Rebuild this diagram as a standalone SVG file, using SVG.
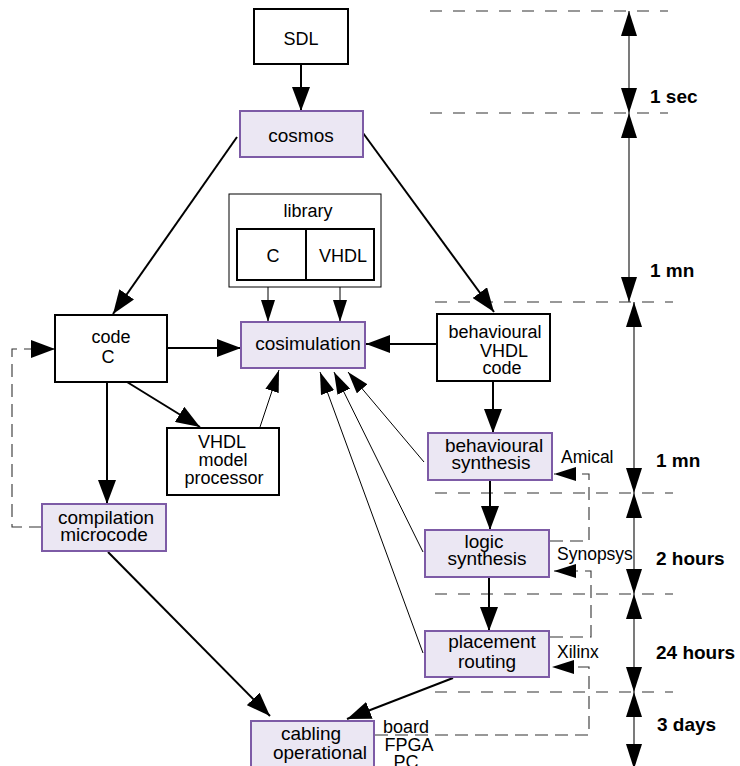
<svg xmlns="http://www.w3.org/2000/svg" width="740" height="766" viewBox="0 0 740 766">
<style>
text{font-family:"Liberation Sans",Arial,sans-serif;fill:#000;text-anchor:middle}
.b{fill:#fff;stroke:#000;stroke-width:2}
.p{fill:#ebe7f3;stroke:#7d5ba6;stroke-width:2}
.t18{font-size:18px}
.t19{font-size:19px}
.lbl{font-size:17.5px;text-anchor:start}
.bold{font-size:19px;font-weight:bold;text-anchor:start}
.thick{stroke:#000;stroke-width:2;fill:none}
.thin{stroke:#000;stroke-width:1;fill:none}
.dash{stroke:#333;stroke-width:1.1;fill:none;stroke-dasharray:13,7}
.hd{stroke:#333;stroke-width:1.1;fill:none;stroke-dasharray:12,11}
.tl{stroke:#333;stroke-width:1.3;fill:none}
</style>
<defs>
<marker id="ah" viewBox="0 0 24 18" refX="24" refY="9" markerWidth="24" markerHeight="18" orient="auto-start-reverse" markerUnits="userSpaceOnUse"><path d="M0,0 L24,9 L0,18 z" fill="#000"/></marker>
<marker id="as" viewBox="0 0 22 14" refX="22" refY="7" markerWidth="22" markerHeight="14" orient="auto-start-reverse" markerUnits="userSpaceOnUse"><path d="M0,0 L22,7 L0,14 z" fill="#000"/></marker>
<marker id="at" viewBox="0 0 25 16" refX="25" refY="8" markerWidth="25" markerHeight="16" orient="auto-start-reverse" markerUnits="userSpaceOnUse"><path d="M0,0 L25,8 L0,16 z" fill="#000"/></marker>
</defs>

<g id="timeline">
<path class="hd" d="M430,11 H668"/>
<path class="hd" d="M430,113 H668"/>
<path class="hd" d="M435,302 H673"/>
<path class="hd" d="M435,493 H673"/>
<path class="hd" d="M435,594 H673"/>
<path class="hd" d="M435,692 H673"/>
<path class="tl" d="M629,11 V113" marker-start="url(#at)" marker-end="url(#at)"/>
<path class="tl" d="M629,113 V302" marker-start="url(#at)" marker-end="url(#at)"/>
<path class="tl" d="M634,302 V493" marker-start="url(#at)" marker-end="url(#at)"/>
<path class="tl" d="M634,493 V594" marker-start="url(#at)" marker-end="url(#at)"/>
<path class="tl" d="M634,594 V692" marker-start="url(#at)" marker-end="url(#at)"/>
<path class="tl" d="M634,692 V769" marker-start="url(#at)" marker-end="url(#at)"/>
<text class="bold" x="650" y="103">1 sec</text>
<text class="bold" x="650" y="277">1 mn</text>
<text class="bold" x="656" y="467">1 mn</text>
<text class="bold" x="656" y="565">2 hours</text>
<text class="bold" x="656" y="659">24 hours</text>
<text class="bold" x="657" y="731">3 days</text>
</g>

<g id="connectors">
<path class="thick" d="M301,64 V111" marker-end="url(#ah)"/>
<path class="thick" d="M237,137 L113,314" marker-end="url(#ah)"/>
<path class="thick" d="M363,133 L494,312" marker-end="url(#ah)"/>
<path class="thin" d="M268,280 V322" marker-end="url(#as)"/>
<path class="thin" d="M340,280 V322" marker-end="url(#as)"/>
<path class="thick" d="M167,348 H241" marker-end="url(#ah)"/>
<path class="thick" d="M437,344 H366" marker-end="url(#ah)"/>
<path class="thick" d="M127,382 L200,427" marker-end="url(#ah)"/>
<path class="thin" d="M260,427 L279,370" marker-end="url(#as)"/>
<path class="thick" d="M107,382 V504" marker-end="url(#ah)"/>
<path class="dash" d="M42,527 H12 V349 H55" marker-end="url(#ah)"/>
<path class="thick" d="M493,381 V433" marker-end="url(#ah)"/>
<path class="thick" d="M490,480 V530" marker-end="url(#ah)"/>
<path class="thick" d="M489,577 V631" marker-end="url(#ah)"/>
<path class="thin" d="M424,462 L348,372" marker-end="url(#as)"/>
<path class="thin" d="M423,552 L334,372" marker-end="url(#as)"/>
<path class="thin" d="M423,653 L320,372" marker-end="url(#as)"/>
<path class="thick" d="M108,552 L270,716" marker-end="url(#ah)"/>
<path class="thick" d="M453,678 L347,719" marker-end="url(#ah)"/>
<path class="dash" d="M550,541 H589 V474 H554" marker-end="url(#as)"/>
<path class="dash" d="M550,637 H591 V571 H554" marker-end="url(#as)"/>
<path class="dash" d="M375,735 H589 V667 H552" marker-end="url(#as)"/>
</g>

<g id="sdl"><rect class="b" x="254" y="9" width="94" height="55"/><text class="t18" x="301" y="45">SDL</text></g>
<g id="cosmos"><rect class="p" x="240" y="111" width="123" height="46"/><text class="t19" x="301" y="142">cosmos</text></g>
<g id="library">
<rect x="229" y="194" width="152" height="93" fill="#fff" stroke="#000" stroke-width="1"/>
<text class="t18" x="308" y="217">library</text>
<rect class="b" x="237" y="229" width="69" height="51"/>
<rect class="b" x="306" y="229" width="68" height="51"/>
<text class="t18" x="273" y="262">C</text>
<text class="t18" x="343" y="262">VHDL</text>
</g>
<g id="cosimulation"><rect class="p" x="241" y="322" width="124" height="46"/><text class="t19" x="308" y="350">cosimulation</text></g>
<g id="codec"><rect class="b" x="55" y="315" width="112" height="67"/><text class="t18" x="111" y="343">code</text><text class="t18" x="108" y="363">C</text></g>
<g id="vhdlmodel"><rect class="b" x="167" y="428" width="112" height="67"/><text class="t18" x="222" y="448">VHDL</text><text class="t18" x="223" y="466">model</text><text class="t18" x="224" y="484">processor</text></g>
<g id="compilation"><rect class="p" x="42" y="504" width="124" height="47"/><text class="t19" x="106" y="524">compilation</text><text class="t19" x="104" y="541">microcode</text></g>
<g id="behavvhdl"><rect class="b" x="437" y="314" width="113" height="67"/><text class="t18" x="495" y="338">behavioural</text><text class="t18" x="504" y="357">VHDL</text><text class="t18" x="502" y="374">code</text></g>
<g id="behavsynth"><rect class="p" x="428" y="433" width="124" height="47"/><text class="t19" x="494" y="452">behavioural</text><text class="t19" x="491" y="469">synthesis</text></g>
<g id="logicsynth"><rect class="p" x="425" y="530" width="124" height="47"/><text class="t19" x="484" y="548">logic</text><text class="t19" x="487" y="565">synthesis</text></g>
<g id="placement"><rect class="p" x="425" y="631" width="124" height="46"/><text class="t19" x="492" y="648">placement</text><text class="t19" x="487" y="668">routing</text></g>
<g id="cabling"><rect class="p" x="251" y="721" width="123" height="60"/><text class="t19" x="311" y="740">cabling</text><text class="t19" x="320" y="759">operational</text></g>
<g id="labels">
<text class="lbl" x="561" y="463">Amical</text>
<text class="lbl" x="557" y="560">Synopsys</text>
<text class="lbl" x="557" y="658">Xilinx</text>
<text class="t18" x="406" y="733">board</text>
<text class="t18" x="409" y="751">FPGA</text>
<text class="t18" x="406" y="768">PC</text>
</g>
</svg>
